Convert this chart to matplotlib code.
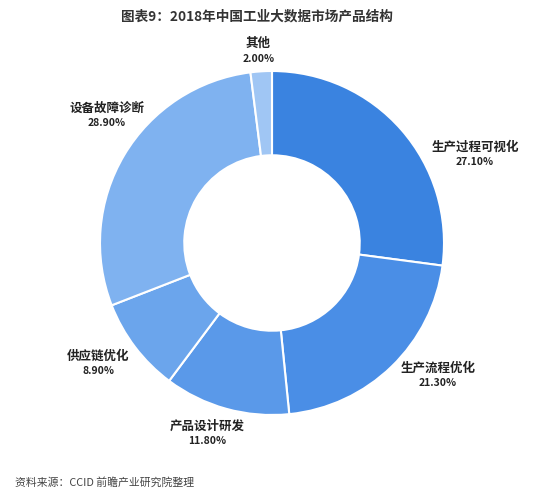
import matplotlib
matplotlib.use("Agg")
import matplotlib.pyplot as plt

plt.rcParams['font.family'] = ['Noto Sans CJK SC', 'DejaVu Sans']

# data
categories = ["生产过程可视化", "生产流程优化", "产品设计研发", "供应链优化", "设备故障诊断", "其他"]
shares = [27.10, 21.30, 11.80, 8.90, 28.90, 2.00]
colors = ["#3A83E0", "#4A8EE6", "#5A99E9", "#6BA5EC", "#7FB2F0", "#A0C6F4"]

# label anchor points (in pie radius units)
label_pos = [(1.18, 0.517), (0.965, -0.77), (-0.378, -1.108), (-1.01, -0.70), (-0.96, 0.74), (-0.08, 1.116)]

fig = plt.figure(figsize=(5.55, 5.0), dpi=100)
ax = fig.add_axes([0, 0, 1, 1])

ax.pie(shares, colors=colors, startangle=90, counterclock=False,
       radius=1.0, wedgeprops=dict(width=0.49, edgecolor="white", linewidth=1.5))

for name, val, (x, y) in zip(categories, shares, label_pos):
    ax.text(x, y + 0.042, name, ha="center", va="center", fontsize=9,
            fontweight="bold", color="#222222")
    ax.text(x, y - 0.045, f"{val:.2f}%", ha="center", va="center", fontsize=7.5,
            fontweight="bold", color="#222222")

ax.set_xlim(-272 / 172, 283 / 172)
ax.set_ylim(-257 / 172, 243 / 172)
ax.set_aspect("equal")
ax.axis("off")

fig.text(0.463, 0.968, "图表9：2018年中国工业大数据市场产品结构", ha="center", va="center",
         fontsize=9.8, fontweight="bold", color="#333333")
fig.text(0.027, 0.036, "资料来源：CCID 前瞻产业研究院整理", ha="left", va="center",
         fontsize=7.8, color="#444444")

fig.savefig("out.png", dpi=100)
